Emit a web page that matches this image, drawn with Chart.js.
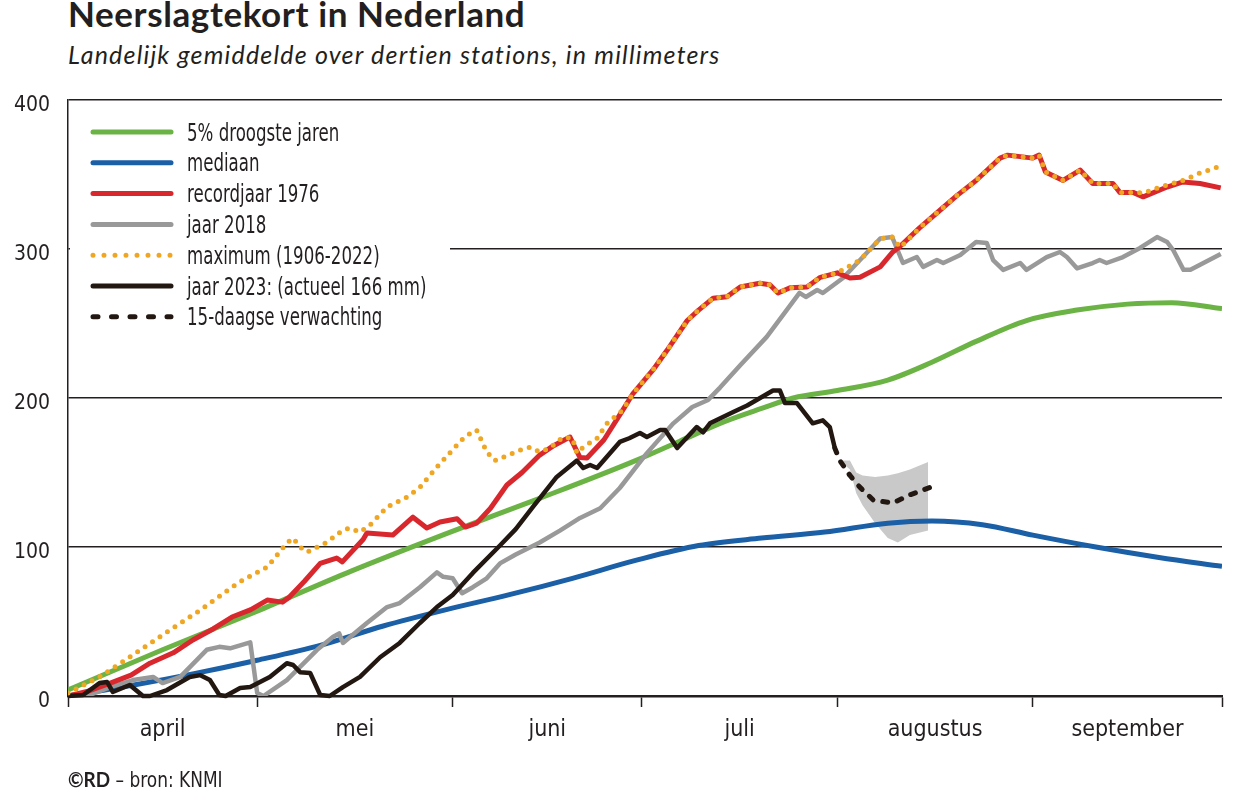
<!DOCTYPE html>
<html lang="nl">
<head>
<meta charset="utf-8">
<title>Neerslagtekort in Nederland</title>
<script src="https://cdn.jsdelivr.net/npm/chart.js@4.4.0/dist/chart.umd.min.js"></script>
<style>
  body { margin: 0; background: #fff; width: 1239px; height: 789px; overflow: hidden; position: relative; color: #231f20; }
  #titel { position: absolute; left: 68px; top: -4px; font: bold 35px/35px Lato, sans-serif; letter-spacing: 0.6px; white-space: nowrap; }
  #ondertitel { position: absolute; left: 68px; top: 42px; font: italic 25px/25px Lato, sans-serif; letter-spacing: 1.2px; white-space: nowrap; }
  #bron { position: absolute; left: 68px; top: 768px; font: 21px/21px 'Liberation Sans Narrow', 'DejaVu Sans Condensed', sans-serif; white-space: nowrap; transform: scaleX(0.9); transform-origin: left top; }
  #bron b { font-family: Lato, sans-serif; }
  canvas { position: absolute; left: 0; top: 0; }
</style>
</head>
<body>
<div id="titel">Neerslagtekort in Nederland</div>
<div id="ondertitel">Landelijk gemiddelde over dertien stations, in millimeters</div>
<canvas id="tekortChart" width="1239" height="789"></canvas>
<div id="bron"><b>©RD</b> – bron: KNMI</div>

<script>
// dag 0 = 1 april, dag 183 = 1 oktober
const maandGrenzen = [0, 30, 61, 91, 122, 153, 183];
const maandMidden = [15, 45.5, 76, 106.5, 137.5, 168];
const maanden = ["april", "mei", "juni", "juli", "augustus", "september"];
const yTicks = [0, 100, 200, 300, 400];

// 5% droogste jaren
const groenDagen = [0, 15, 30, 45, 60, 75, 90, 97, 104, 110, 115, 122, 130, 137, 144, 152, 160, 168, 175, 183];
const groenMm = [4, 31, 57, 84, 109, 133, 158, 171, 184, 193, 200, 205, 212, 224, 238, 252, 259, 263, 264, 260];

// mediaan
const blauwDagen = [0, 10, 20, 30, 40, 50, 60, 70, 80, 90, 100, 110, 120, 130, 137, 145, 153, 163, 173, 183];
const blauwMm = [0, 7, 15, 24, 34, 47, 58, 68, 79, 91, 101, 106, 110, 116, 117.5, 115, 108, 100, 93, 87];

// recordjaar 1976
const roodDagen = [0, 3, 6.7, 10, 13, 16.7, 19.8, 23, 26, 29, 31.6, 34, 35, 37.5, 40, 42.6, 43.5, 46.8, 47.4, 51.5, 54.7, 56.9, 59, 61.7, 63, 64.8, 67, 69.6, 72, 74.8, 77, 79.6, 81.2, 82.3, 85, 88, 89.6, 92.8, 95, 98.2, 100, 102.3, 104.5, 106.6, 109.7, 111.3, 112.6, 114.5, 117.2, 119.3, 122, 124, 125.6, 128.8, 130.8, 132, 135, 138, 141, 144, 147.8, 149, 153, 154, 155, 157.8, 160.5, 162.5, 165.7, 166.8, 168.9, 170.5, 174.3, 176.8, 179.5, 182.8];
const roodMm = [0, 3, 8.7, 14, 22, 29, 37.6, 45, 53, 58, 64.4, 63, 66, 77, 89, 92.6, 90, 105, 109.4, 108, 120, 112.7, 116.8, 119, 113.4, 116, 126, 141.6, 150, 161.7, 168, 173.8, 160, 159.7, 172, 192, 203, 219, 232, 252, 259, 267, 268, 274.5, 277, 276, 270.5, 274, 274.5, 281, 284, 280.5, 281, 288, 298, 302, 314, 325, 336, 346, 361, 363, 361, 363, 351.7, 346, 353, 344, 344, 338, 338, 335, 341.6, 345, 344, 341];

// jaar 2018
const grijsDagen = [0, 3, 6.7, 10.3, 13.5, 15, 17.8, 22, 24, 25.7, 28.9, 30, 31, 34.7, 39.5, 42, 43, 43.6, 47.4, 50.6, 52.6, 55.8, 58.5, 59.5, 61, 62.5, 64.2, 66.4, 68.5, 71, 74.8, 78, 81.2, 84.4, 87.5, 91.8, 96, 99, 101.5, 103.4, 106.6, 110.8, 116, 117, 118.8, 119.7, 122.9, 125.6, 128.8, 130.7, 132.4, 134.6, 135.6, 137.8, 138.8, 141.5, 144, 145.7, 146.7, 148.3, 151, 152, 155.2, 157.3, 158.4, 160, 162.5, 163.6, 164.7, 167.3, 170, 172.7, 174.3, 175.3, 176.9, 178, 182.8];
const grijsMm = [0, 0, 6, 10.7, 12.8, 8.7, 12.8, 31, 33, 32, 36, 2, 0, 10.7, 31, 39.6, 42, 35.6, 49, 59.7, 62.4, 73, 83, 80, 79, 69, 73, 79, 89, 95, 103, 111, 119.5, 126, 139.6, 163, 183, 194, 198.7, 207, 222, 241, 270.5, 267.8, 272.5, 270.5, 280.5, 292.6, 307, 308, 290.6, 294.6, 288, 292.6, 290.6, 296, 304.7, 304, 292.6, 286, 290.6, 286, 294.6, 298, 294.6, 287, 290.6, 292.6, 290.6, 294.6, 300.7, 308, 304.7, 299, 286, 286, 296.6];

// maximum (1906-2022)
const maxDagen = [0, 5, 10.3, 15.7, 21, 26, 27.8, 31.6, 34.7, 35.7, 36.8, 37.9, 41, 43.6, 44.7, 46.3, 47.9, 50.6, 53.8, 55.8, 58.5, 61.7, 62.7, 64, 64.8, 66.4, 67.7, 71.7, 73.3, 74.8, 76.4, 78.5, 80, 80.7, 81.7, 83.9, 85.5, 88, 89.6, 92.8, 95, 98.2, 100, 102.3, 104.5, 106.6, 109.7, 111.3, 112.6, 114.5, 117.2, 119.3, 122, 125.6, 128.8, 130.7, 132, 135, 138, 141, 144, 147.8, 149, 153, 154, 155, 157.8, 160.5, 162.5, 165.7, 166.8, 168.9, 170.5, 173.5, 176.8, 179.5, 182.8];
const maxMm = [2, 12.8, 27.5, 43, 57.7, 73, 78, 86.6, 102.7, 106, 100, 96.6, 103, 111.4, 112.8, 110, 114.8, 126.8, 133.6, 140, 153.7, 168.5, 173, 177, 178.5, 163.8, 158, 165, 167, 163.8, 166.4, 173.8, 173, 163, 167, 173, 183, 192, 203, 219, 232, 252, 259, 267, 268, 274.5, 277, 276, 270.5, 274, 274.5, 281, 284, 292.6, 307, 308, 301, 314, 325, 336, 346, 361, 363, 361, 363, 351.7, 346, 353, 344, 344, 338, 338, 337.6, 342, 346, 351, 355.7];

// jaar 2023
const zwartDagen = [0, 2.4, 5, 6.2, 7.1, 9.8, 11.9, 13, 15.7, 19.3, 21, 22.5, 24, 25, 27.3, 28.9, 32, 34.7, 35.7, 36.8, 38.4, 40, 41.5, 43.6, 46.3, 49.5, 52.6, 55.8, 58.5, 61, 64.2, 68.5, 71, 73.7, 77.5, 80.7, 81.7, 82.8, 83.9, 87.5, 89, 90.7, 91.8, 93.9, 94.7, 96.6, 99.7, 100.7, 101.8, 105.5, 107.7, 111.8, 112.9, 113.7, 115.6, 118.1, 119.7, 120.8, 121.6];
const zwartMm = [0, 0.7, 8.7, 9.4, 2.7, 7.4, 0, 0, 4, 12.8, 14, 10.7, 0.7, 0, 5.4, 6, 12.8, 22, 20.8, 16, 15.4, 0.7, 0, 6, 12.8, 26, 35.6, 49, 59.7, 67.8, 82.6, 101, 112, 126.8, 147, 158, 153, 155, 153, 170.5, 173, 176.5, 173.8, 178.5, 178.5, 166.4, 180.5, 177, 183, 190.6, 195, 205, 205, 196.6, 196.6, 183, 185, 180.5, 166.4];

// 15-daagse verwachting + onzekerheid
const verwDagen = [121.6, 122.4, 124, 125.6, 127.7, 130.8, 133.5, 136.7];
const verwMm = [166.4, 158, 148, 140, 131.5, 129.5, 135, 140];
const bandDagen = [122.4, 124, 125, 126, 128, 130, 131.6, 133.5, 136.4];
const bandBoven = [158, 158, 150, 148, 147, 148, 149.5, 152, 157];
const bandOnder = [158, 152, 136, 128, 116, 106, 103, 108, 111];

const DONKER = "#231f20";
const FONT = "'Liberation Sans Narrow', 'DejaVu Sans Condensed', 'Open Sans', sans-serif";

function punten(dagen, waarden) {
    return dagen.map((d, i) => ({ x: d, y: waarden[i] }));
}

// legenda linksboven in het plotvlak (dekt ook de 300-lijn af)
const legendaItems = [
    { tekst: "5% droogste jaren", kleur: "#6ab344", dash: [] },
    { tekst: "mediaan", kleur: "#1b5fa7", dash: [] },
    { tekst: "recordjaar 1976", kleur: "#d8282e", dash: [] },
    { tekst: "jaar 2018", kleur: "#999999", dash: [] },
    { tekst: "maximum (1906-2022)", kleur: "#eea623", dash: [0, 11] },
    { tekst: "jaar 2023: (actueel 166 mm)", kleur: "#231811", dash: [] },
    { tekst: "15-daagse verwachting", kleur: "#231811", dash: [5, 13.5] },
];

const legendaPlugin = {
    id: "legendaBox",
    beforeDatasetsDraw(chart) {
        const ctx = chart.ctx;
        ctx.save();
        ctx.fillStyle = "#fff";
        ctx.fillRect(70, 102, 380, 232);
        legendaItems.forEach((item, i) => {
            const y = 132 + i * 30.8;
            ctx.beginPath();
            ctx.strokeStyle = item.kleur;
            ctx.lineWidth = 5;
            ctx.lineCap = "round";
            ctx.setLineDash(item.dash);
            ctx.moveTo(93, y);
            ctx.lineTo(171, y);
            ctx.stroke();
            ctx.setLineDash([]);
            // smallere letter, zoals het origineel
            ctx.save();
            ctx.translate(187, y + 8.5);
            ctx.scale(0.77, 1);
            ctx.fillStyle = DONKER;
            ctx.font = "24px " + FONT;
            ctx.textBaseline = "alphabetic";
            ctx.fillText(item.tekst, 0, 0);
            ctx.restore();
        });
        ctx.restore();
    }
};

const ctx = document.getElementById("tekortChart").getContext("2d");

new Chart(ctx, {
    type: "line",
    data: {
        datasets: [
            {
                label: "maximum (1906-2022)",
                data: punten(maxDagen, maxMm),
                borderColor: "#eea623",
                borderWidth: 5,
                borderDash: [0, 9],
                borderCapStyle: "round",
            },
            {
                label: "15-daagse verwachting",
                data: punten(verwDagen, verwMm),
                borderColor: "#231811",
                borderWidth: 5,
                borderDash: [5, 10],
                borderCapStyle: "round",
            },
            {
                label: "jaar 2023",
                data: punten(zwartDagen, zwartMm),
                borderColor: "#231811",
                borderWidth: 4.5,
                clip: false,
            },
            {
                label: "recordjaar 1976",
                data: punten(roodDagen, roodMm),
                borderColor: "#d8282e",
                borderWidth: 5,
            },
            {
                label: "jaar 2018",
                data: punten(grijsDagen, grijsMm),
                borderColor: "#999999",
                borderWidth: 4.5,
            },
            {
                label: "mediaan",
                data: punten(blauwDagen, blauwMm),
                borderColor: "#1b5fa7",
                borderWidth: 5,
                cubicInterpolationMode: "monotone",
            },
            {
                label: "5% droogste jaren",
                data: punten(groenDagen, groenMm),
                borderColor: "#6ab344",
                borderWidth: 5,
                cubicInterpolationMode: "monotone",
            },
            {
                label: "band boven",
                data: punten(bandDagen, bandBoven),
                borderWidth: 0,
                borderColor: "rgba(0,0,0,0)",
                backgroundColor: "#c9c9c9",
                fill: "+1",
            },
            {
                label: "band onder",
                data: punten(bandDagen, bandOnder),
                borderWidth: 0,
                borderColor: "rgba(0,0,0,0)",
                fill: false,
            },
        ],
    },
    options: {
        responsive: false,
        animation: false,
        layout: { padding: { top: 100, right: 17, bottom: 43, left: 0 } },
        elements: {
            point: { radius: 0, hoverRadius: 0 },
            line: { borderJoinStyle: "round", tension: 0 },
        },
        scales: {
            x: {
                type: "linear",
                min: 0,
                max: 183,
                afterFit: (scale) => { scale.height = 50; },
                afterBuildTicks: (scale) => {
                    scale.ticks = maandGrenzen.concat(maandMidden).sort((a, b) => a - b).map(v => ({ value: v }));
                },
                ticks: {
                    autoSkip: false,
                    maxRotation: 0,
                    minRotation: 0,
                    padding: 9,
                    color: DONKER,
                    font: { family: FONT, size: 23 },
                    callback: function (value) {
                        const i = maandMidden.indexOf(value);
                        return i >= 0 ? maanden[i] : "";
                    },
                },
                grid: {
                    drawOnChartArea: false,
                    drawTicks: true,
                    tickLength: 11,
                    tickWidth: 1.5,
                    tickColor: (c) => (c.tick && maandGrenzen.includes(c.tick.value)) ? DONKER : "rgba(0,0,0,0)",
                },
                border: { display: true, color: DONKER, width: 2.5 },
            },
            y: {
                min: 0,
                max: 400,
                afterFit: (scale) => { scale.width = 68; },
                afterBuildTicks: (scale) => { scale.ticks = yTicks.map(v => ({ value: v })); },
                ticks: {
                    padding: 18,
                    labelOffset: 6,
                    color: DONKER,
                    font: { family: FONT, size: 21 },
                },
                grid: {
                    color: DONKER,
                    lineWidth: 1.4,
                    drawTicks: false,
                },
                border: { display: true, color: DONKER, width: 1.5 },
            },
        },
        plugins: {
            legend: { display: false },
            tooltip: { enabled: false },
        },
    },
    plugins: [legendaPlugin],
});
</script>
</body>
</html>
